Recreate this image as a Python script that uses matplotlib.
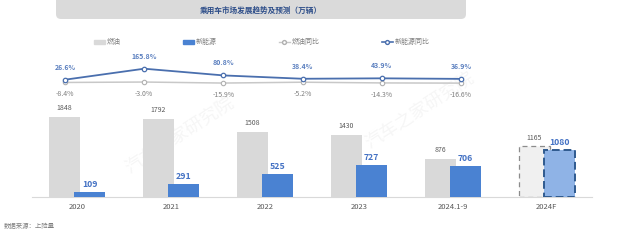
import matplotlib.pyplot as plt
from matplotlib.patches import FancyBboxPatch, Patch
from matplotlib.lines import Line2D

plt.rcParams["font.family"] = ["Noto Sans CJK SC", "DejaVu Sans"]

categories = ["2020", "2021", "2022", "2023", "2024.1-9", "2024F"]
fuel = [1848, 1792, 1508, 1430, 876, 1165]
nev = [109, 291, 525, 727, 706, 1080]
fuel_yoy = [-8.4, -3.0, -15.9, -5.2, -14.3, -16.6]
nev_yoy = [26.6, 165.8, 80.8, 38.4, 43.9, 36.9]

GRAY = "#d9d9d9"
BLUE = "#4a82d2"
LINE_BLUE = "#4a6fae"
LINE_GRAY = "#c8c8c8"
W, H = 620, 240

fig = plt.figure(figsize=(6.2, 2.4), dpi=100)


def px_axes(x0, y0, x1, y1):
    # pixel box (top-left origin) -> figure axes
    return fig.add_axes([x0 / W, 1 - y1 / H, (x1 - x0) / W, (y1 - y0) / H])


# title banner
bg = fig.add_axes([0, 0, 1, 1])
bg.set_xlim(0, W)
bg.set_ylim(H, 0)
bg.axis("off")
bg.add_patch(FancyBboxPatch((56, -8), 410, 27, boxstyle="round,pad=0,rounding_size=5",
                            fc="#dadada", ec="none"))
bg.text(261, 10.5, "乘用车市场发展趋势及预测（万辆）", ha="center", va="center",
        fontsize=5.5, fontweight="bold", color="#2f4f8a")
bg.text(4, 226, "数据来源：上险量", ha="left", va="center", fontsize=4.6, color="#7f7f7f")
for (wx, wy) in [(180, 135), (420, 110)]:
    bg.text(wx, wy, "汽车之家研究院", ha="center", va="center", rotation=33,
            fontsize=13, color="#f6f6f6", zorder=0)

# bars
ax = px_axes(32, 105, 592, 197)
x = range(len(categories))
bw = 0.33
off = 0.133
for i in x:
    last = i == len(categories) - 1
    if last:
        ax.bar(i - off, fuel[i], bw, color="#f0f0f0", edgecolor="#8c8c8c",
               linestyle=(0, (4, 3)), linewidth=0.9, zorder=2)
        ax.bar(i + off, nev[i], bw, color="#8fb3e6", edgecolor="#2f5a8f",
               linestyle=(0, (4, 2)), linewidth=1.4, zorder=3)
    else:
        ax.bar(i - off, fuel[i], bw, color=GRAY, zorder=2)
        ax.bar(i + off, nev[i], bw, color=BLUE, zorder=3)
    ax.text(i - off, fuel[i] + 110, str(fuel[i]), ha="center", va="bottom",
            fontsize=5, color="#595959")
    ax.text(i + off, nev[i] + 80, str(nev[i]), ha="center", va="bottom",
            fontsize=6.3, fontweight="bold", color="#4472c4")
ax.set_xlim(-0.48, len(categories) - 0.52)
ax.set_ylim(0, 2120)
ax.set_xticks(list(x))
ax.set_xticklabels(categories, fontsize=5.5, color="#595959")
ax.tick_params(length=0, pad=4)
ax.set_yticks([])
for s in ["top", "right", "left"]:
    ax.spines[s].set_visible(False)
ax.spines["bottom"].set_color("#d9d9d9")
ax.spines["bottom"].set_linewidth(0.8)
ax.patch.set_alpha(0)

# yoy lines
lx = px_axes(25.4, 60, 500.6, 90)
lx.plot(list(x), fuel_yoy, color=LINE_GRAY, lw=1.1, marker="o", ms=3.2,
        mfc="white", mec="#b0b0b0", mew=0.8, zorder=2)
lx.plot(list(x), nev_yoy, color=LINE_BLUE, lw=1.3, marker="o", ms=3.2,
        mfc="white", mec=LINE_BLUE, mew=0.9, zorder=3)
for i in x:
    lx.annotate(f"{nev_yoy[i]:.1f}%", (i, nev_yoy[i]), xytext=(0, 6.5),
                textcoords="offset points", ha="center", va="bottom",
                fontsize=5, fontweight="bold", color="#5a7fbf")
    lx.annotate(f"{fuel_yoy[i]:.1f}%", (i, fuel_yoy[i]), xytext=(0, -5.5),
                textcoords="offset points", ha="center", va="top",
                fontsize=5, color="#7f7f7f")
lx.set_xlim(-0.5, 5.5)
lx.set_ylim(-103.8, 275.9)
lx.axis("off")

handles = [
    Patch(color=GRAY),
    Patch(color=BLUE),
    Line2D([], [], color=LINE_GRAY, lw=1, marker="o", ms=2.8, mfc="white", mec="#b0b0b0"),
    Line2D([], [], color=LINE_BLUE, lw=1.2, marker="o", ms=2.8, mfc="white", mec=LINE_BLUE),
]
fig.legend(handles, ["燃油", "新能源", "燃油同比", "新能源同比"], loc="center",
           bbox_to_anchor=(261.5 / W, 1 - 42 / H), ncol=4, frameon=False,
           fontsize=5, labelcolor="#7f7f7f", handlelength=1.6, handleheight=0.5,
           handletextpad=0.2, columnspacing=9)

fig.savefig("out.png", dpi=100)
